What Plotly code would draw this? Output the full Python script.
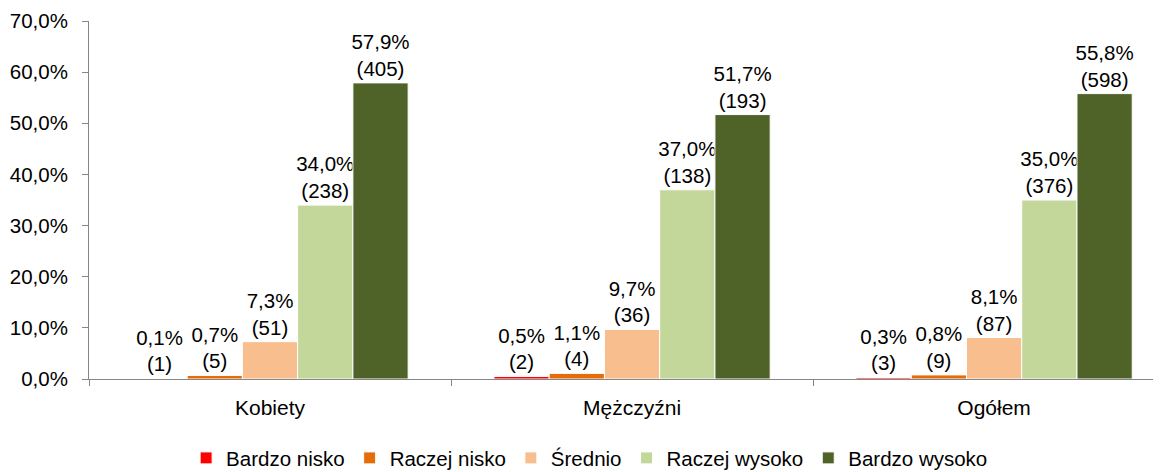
import plotly.graph_objects as go

categories = ["Kobiety", "Mężczyźni", "Ogółem"]
series_names = ["Bardzo nisko", "Raczej nisko", "Średnio", "Raczej wysoko", "Bardzo wysoko"]
bardzo_nisko = [0.1, 0.5, 0.3]
raczej_nisko = [0.7, 1.1, 0.8]
srednio = [7.3, 9.7, 8.1]
raczej_wysoko = [34.0, 37.0, 35.0]
bardzo_wysoko = [57.9, 51.7, 55.8]
bardzo_nisko_n = [1, 2, 3]
raczej_nisko_n = [5, 4, 9]
srednio_n = [51, 36, 87]
raczej_wysoko_n = [238, 138, 376]
bardzo_wysoko_n = [405, 193, 598]
colors = ["#FF0000", "#E46C0A", "#F9BE8E", "#C4D79B", "#4F6228"]

values = [bardzo_nisko, raczej_nisko, srednio, raczej_wysoko, bardzo_wysoko]
counts = [bardzo_nisko_n, raczej_nisko_n, srednio_n, raczej_wysoko_n, bardzo_wysoko_n]

FONT = "Liberation Sans, Arial, sans-serif"

fig = go.Figure()
for name, vals, ns, col in zip(series_names, values, counts, colors):
    texts = [f"{v:.1f}%".replace(".", ",") + f"<br>({n})" for v, n in zip(vals, ns)]
    fig.add_trace(go.Bar(
        name=name, x=categories, y=vals, text=texts,
        textposition="outside", constraintext="none", cliponaxis=False,
        textfont=dict(family=FONT, size=20.5, color="#000000"),
        marker=dict(color=col, line=dict(color="#FFFFFF", width=1)),
        hoverinfo="skip",
    ))

# The page body has an 8px margin, so the figure is sized 8px smaller.
fig.update_layout(
    width=1153, height=464,
    margin=dict(l=81, r=0, t=13, b=93, autoexpand=False),
    paper_bgcolor="white", plot_bgcolor="white",
    barmode="group", bargap=0.237, bargroupgap=0,
    separators=", ",
    font=dict(family=FONT, size=20, color="#000000"),
    showlegend=True,
    legend=dict(orientation="h", x=0.467, xanchor="center", y=-0.165, yanchor="top",
                font=dict(family=FONT, size=20.5, color="#000000"),
                traceorder="normal", itemwidth=30),
    xaxis=dict(range=[-0.5, 2.461], showline=True, linecolor="#868686", linewidth=1,
               ticks="outside", tickson="boundaries", ticklen=6, tickcolor="#868686",
               showgrid=False, ticklabelstandoff=10, automargin=False,
               tickfont=dict(family=FONT, size=21, color="#000000")),
    yaxis=dict(range=[0, 70], dtick=10, tickformat=".1f", ticksuffix="%",
               showline=True, linecolor="#868686", linewidth=1,
               ticks="outside", ticklen=6, tickcolor="#868686",
               showgrid=False, zeroline=False, ticklabelstandoff=10, automargin=False,
               tickfont=dict(family=FONT, size=20.5, color="#000000")),
)

fig.write_html("out.html")
